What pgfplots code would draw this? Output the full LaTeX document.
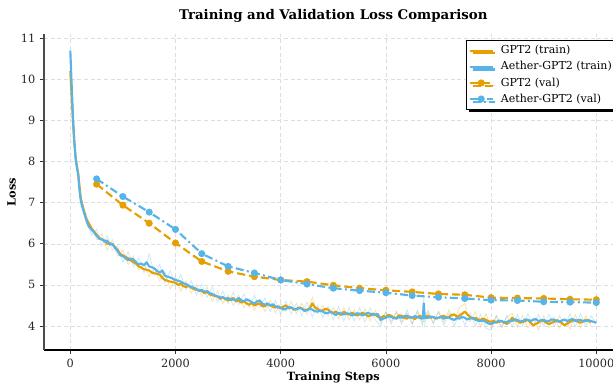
\documentclass[border=0pt]{standalone}
\usepackage{pgfplots}
\pgfplotsset{compat=1.18}
\usepackage{fontspec}
\setmainfont{DejaVu Serif}
\usetikzlibrary{shadows}
\definecolor{cOr}{HTML}{E69F00}
\definecolor{cBl}{HTML}{56B4E9}
\begin{document}
\begin{tikzpicture}
\useasboundingbox (0,0) rectangle (459.75pt,287.25pt);
\clip (0,0) rectangle (459.75pt,287.25pt);
\begin{axis}[
  at={(33pt,24.75pt)}, anchor=south west,
  scale only axis, width=433.95pt, height=236.85pt,
  xmin=-500, xmax=10500, ymin=3.416, ymax=11.1,
  axis x line*=bottom, axis y line*=left,
  x axis line style={black, line width=0.8pt, -},
  y axis line style={black!70, line width=1.2pt, -},
  xtick={0,2000,4000,6000,8000,10000},
  ytick={4,5,6,7,8,9,10,11},
  scaled x ticks=false,
  xticklabel style={/pgf/number format/1000 sep={}},
  /pgf/number format/assume math mode=true,
  tick align=outside, major tick length=3pt,
  tick style={black!80, line width=0.6pt},
  ticklabel style={font=\fontsize{8.5}{10}\selectfont, text=black!85},
  grid=major, grid style={densely dashed, black!13, line width=0.4pt},
  xlabel={\textbf{Training Steps}}, ylabel={\textbf{Loss}},
  label style={font=\fontsize{8.5}{10}\selectfont},
  xlabel style={yshift=3.5pt},
  ylabel style={yshift=-3pt},
  title={\textbf{Training and Validation Loss Comparison}},
  title style={font=\fontsize{10}{12}\selectfont, yshift=-0.5pt},
  legend style={at={(0.729,0.982)}, anchor=north west, draw=black, fill=white,
    line width=0.5pt, font=\fontsize{8.25}{10}\selectfont,
    drop shadow={shadow xshift=2pt, shadow yshift=-2pt, fill=black, opacity=1},
    row sep=0.3pt, inner sep=2pt},
  legend cell align=left,
  legend image code/.code={\draw[#1] (0pt,0pt) -- (17pt,0pt); \path[#1,solid] plot coordinates {(8.5pt,0pt)}; \path (20.5pt,0pt);},
]
% raw (faint) training curves
\addplot[cOr, opacity=0.3, line width=0.6pt, forget plot] coordinates {
(0,10.2)(50,8.9)(100,8.2)(150,7.6)(200,7.2)(300,6.5)(400,6.45)(500,6.1)(600,6.25)(700,5.85)(800,6.1)(900,5.7)(1000,5.85)(1100,5.5)(1200,5.7)(1300,5.35)(1400,5.5)(1500,5.2)(1600,5.4)(1700,5.1)(1800,5.3)(1900,4.9)(2000,5.2)(2100,4.85)(2200,5.1)(2300,4.8)(2400,5.0)(2500,4.72)(2600,4.95)(2700,4.6)(2800,4.85)(2900,4.55)(3000,4.75)(3100,4.5)(3200,4.75)(3300,4.45)(3400,4.65)(3500,4.38)(3600,4.65)(3700,4.35)(3800,4.62)(3900,4.32)(4000,4.55)(4100,4.35)(4200,4.6)(4300,4.3)(4400,4.55)(4500,4.28)(4600,4.7)(4700,4.3)(4800,4.5)(4900,4.25)(5000,4.45)(5100,4.18)(5200,4.45)(5300,4.15)(5400,4.4)(5500,4.15)(5600,4.42)(5700,4.12)(5800,4.38)(5900,4.08)(6000,4.35)(6100,4.1)(6200,4.35)(6300,4.1)(6400,4.32)(6500,4.05)(6600,4.35)(6700,4.08)(6800,4.38)(6900,4.08)(7000,4.35)(7100,4.1)(7200,4.4)(7300,4.12)(7400,4.45)(7500,4.55)(7600,4.1)(7700,4.35)(7800,3.98)(7900,4.3)(8000,3.95)(8100,4.25)(8200,3.95)(8300,4.22)(8400,4.3)(8500,3.98)(8600,4.25)(8700,3.95)(8800,4.2)(8900,3.9)(9000,4.25)(9100,3.95)(9200,4.22)(9300,3.95)(9400,4.2)(9500,3.92)(9600,4.28)(9700,3.95)(9800,4.25)(9900,4.0)
};
\addplot[cBl, opacity=0.3, line width=0.6pt, forget plot] coordinates {
(0,10.7)(50,9.2)(100,8.0)(150,7.8)(200,6.9)(300,6.75)(400,6.2)(500,6.35)(600,5.95)(700,6.2)(800,5.85)(900,5.95)(1000,5.55)(1100,5.8)(1200,5.45)(1300,5.65)(1400,5.3)(1500,5.75)(1600,5.25)(1700,5.5)(1800,5.05)(1900,5.35)(2000,4.98)(2100,5.25)(2200,4.88)(2300,5.1)(2400,4.75)(2500,5.02)(2600,4.7)(2700,4.95)(2800,4.58)(2900,4.85)(3000,4.55)(3100,4.82)(3200,4.52)(3300,4.78)(3400,4.45)(3500,4.75)(3600,4.45)(3700,4.68)(3800,4.35)(3900,4.62)(4000,4.3)(4100,4.6)(4200,4.3)(4300,4.55)(4400,4.25)(4500,4.58)(4600,4.22)(4700,4.5)(4800,4.2)(4900,4.48)(5000,4.15)(5100,4.48)(5200,4.12)(5300,4.45)(5400,4.12)(5500,4.45)(5600,4.1)(5700,4.45)(5800,4.15)(5900,4.0)(6000,4.35)(6100,4.05)(6200,4.35)(6300,4.05)(6400,4.4)(6500,4.05)(6600,4.38)(6700,4.0)(6720,4.75)(6740,4.05)(6800,4.35)(6900,4.05)(7000,4.35)(7100,4.02)(7200,4.32)(7300,4.0)(7400,4.32)(7500,4.02)(7600,4.32)(7700,4.0)(7800,4.28)(7900,3.95)(8000,3.9)(8100,4.25)(8200,3.98)(8300,4.25)(8400,3.98)(8500,4.28)(8600,4.0)(8700,4.3)(8800,4.0)(8900,4.28)(9000,4.0)(9100,4.28)(9200,4.0)(9300,4.25)(9400,4.0)(9500,4.3)(9600,3.98)(9700,4.3)(9800,4.0)(9900,4.25)(10000,4.05)
};
% smoothed training curves
\addplot[cOr, line width=1.6pt, line join=round] coordinates {
(0,10.2)(25,9.6)(50,9.0)(75,8.5)(100,8.1)(125,7.9)(150,7.7)(175,7.4)(200,7.1)(250,6.85)(300,6.62)(350,6.5)(400,6.38)(450,6.3)(500,6.22)(550,6.15)(600,6.1)(650,6.08)(700,6.0)(750,6.02)(800,5.98)(850,5.92)(900,5.85)(950,5.75)(1000,5.72)(1050,5.68)(1100,5.65)(1150,5.6)(1200,5.55)(1250,5.52)(1300,5.45)(1350,5.42)(1400,5.38)(1450,5.37)(1500,5.35)(1550,5.3)(1600,5.28)(1650,5.27)(1700,5.25)(1750,5.17)(1800,5.12)(1850,5.1)(1900,5.08)(1950,5.07)
(2000,5.05)(2050,5.0)(2100,5.03)(2150,4.97)(2200,4.95)(2250,4.98)(2300,4.93)(2350,4.9)(2400,4.88)(2450,4.86)(2500,4.85)(2550,4.8)(2600,4.83)(2650,4.77)(2700,4.75)(2750,4.73)(2800,4.72)(2850,4.66)(2900,4.7)(2950,4.65)(3000,4.62)(3050,4.66)(3100,4.68)(3150,4.6)(3200,4.62)(3250,4.57)(3300,4.6)(3350,4.55)(3400,4.52)(3450,4.56)(3500,4.5)(3550,4.53)(3600,4.55)(3650,4.48)(3700,4.48)(3750,4.54)(3800,4.5)(3850,4.47)(3900,4.45)(3950,4.48)(4000,4.43)(4050,4.47)(4100,4.5)(4150,4.43)(4200,4.45)(4250,4.4)(4300,4.42)(4350,4.45)(4400,4.43)(4450,4.38)(4500,4.4)(4550,4.42)(4600,4.55)(4650,4.45)(4700,4.42)(4750,4.36)(4800,4.38)(4850,4.42)(4900,4.4)(4950,4.34)(5000,4.32)(5050,4.35)(5100,4.3)(5150,4.27)(5200,4.35)(5250,4.3)(5300,4.28)(5350,4.32)(5400,4.3)(5450,4.26)(5500,4.28)(5550,4.32)(5600,4.3)(5650,4.24)(5700,4.25)(5750,4.3)(5800,4.28)(5850,4.22)(5900,4.2)(5950,4.24)(6000,4.22)(6050,4.27)(6100,4.25)(6150,4.2)(6200,4.2)(6250,4.26)(6300,4.25)(6350,4.2)(6400,4.18)(6450,4.23)(6500,4.2)(6550,4.17)(6600,4.22)(6650,4.25)(6700,4.2)(6750,4.22)(6800,4.25)(6850,4.2)(6900,4.22)(6950,4.18)(7000,4.2)(7050,4.23)(7100,4.25)(7150,4.2)(7200,4.22)(7250,4.27)(7300,4.28)(7350,4.23)(7400,4.25)(7450,4.3)(7500,4.35)(7550,4.28)(7600,4.22)(7650,4.18)(7700,4.2)(7750,4.16)(7800,4.15)(7850,4.18)(7900,4.15)(7950,4.12)(8000,4.1)(8050,4.13)(8100,4.08)(8150,4.1)(8200,4.12)(8250,4.08)(8300,4.05)(8350,4.1)(8400,4.2)(8450,4.14)(8500,4.12)(8550,4.08)(8600,4.1)(8650,4.12)(8700,4.15)(8750,4.08)(8800,4.02)(8850,4.05)(8900,4.08)(8950,4.14)(9000,4.12)(9050,4.08)(9100,4.05)(9150,4.08)(9200,4.1)(9250,4.14)(9300,4.12)(9350,4.06)(9400,4.02)(9450,4.06)(9500,4.1)(9550,4.13)(9600,4.15)(9650,4.1)(9700,4.08)(9750,4.12)(9800,4.15)(9850,4.12)(9900,4.1)
};
\addlegendentry{GPT2 (train)}
\addplot[cBl, line width=1.6pt, line join=round] coordinates {
(0,10.7)(25,9.9)(50,9.1)(75,8.5)(100,8.1)(125,7.85)(150,7.7)(175,7.3)(200,7.05)(250,6.8)(300,6.6)(350,6.42)(400,6.35)(450,6.28)(500,6.2)(550,6.12)(600,6.12)(650,6.05)(700,6.08)(750,5.98)(800,6.0)(850,5.9)(900,5.82)(950,5.72)(1000,5.7)(1050,5.65)(1100,5.6)(1150,5.64)(1200,5.62)(1250,5.55)(1300,5.5)(1350,5.52)(1400,5.48)(1450,5.55)(1500,5.45)(1550,5.43)(1600,5.4)(1650,5.34)(1700,5.3)(1750,5.35)(1800,5.22)(1850,5.2)(1900,5.18)(1950,5.15)
(2000,5.12)(2050,5.1)(2100,5.08)(2150,5.04)(2200,5.02)(2250,4.98)(2300,4.95)(2350,4.93)(2400,4.9)(2450,4.86)(2500,4.88)(2550,4.83)(2600,4.85)(2650,4.8)(2700,4.78)(2750,4.74)(2800,4.72)(2850,4.69)(2900,4.7)(2950,4.66)(3000,4.68)(3050,4.63)(3100,4.65)(3150,4.62)(3200,4.68)(3250,4.63)(3300,4.6)(3350,4.65)(3400,4.62)(3450,4.58)(3500,4.55)(3550,4.6)(3600,4.62)(3650,4.55)(3700,4.52)(3750,4.55)(3800,4.5)(3850,4.53)(3900,4.48)(3950,4.45)(4000,4.45)(4050,4.4)(4100,4.42)(4150,4.46)(4200,4.45)(4250,4.41)(4300,4.4)(4350,4.44)(4400,4.42)(4450,4.37)(4500,4.38)(4550,4.42)(4600,4.4)(4650,4.36)(4700,4.35)(4750,4.38)(4800,4.35)(4850,4.31)(4900,4.32)(4950,4.35)(5000,4.3)(5050,4.27)(5100,4.32)(5150,4.3)(5200,4.28)(5250,4.31)(5300,4.3)(5350,4.26)(5400,4.27)(5450,4.31)(5500,4.3)(5550,4.26)(5600,4.28)(5650,4.32)(5700,4.3)(5750,4.27)(5800,4.28)(5850,4.29)(5900,4.15)(5950,4.18)(6000,4.2)(6050,4.24)(6100,4.22)(6150,4.19)(6200,4.18)(6250,4.22)(6300,4.2)(6350,4.24)(6400,4.25)(6450,4.21)(6500,4.2)(6550,4.24)(6600,4.22)(6650,4.19)(6700,4.18)(6720,4.55)(6740,4.2)(6800,4.2)(6850,4.23)(6900,4.22)(6950,4.19)(7000,4.2)(7050,4.22)(7100,4.18)(7150,4.21)(7200,4.2)(7250,4.17)(7300,4.15)(7350,4.19)(7400,4.18)(7450,4.22)(7500,4.2)(7550,4.16)(7600,4.18)(7650,4.2)(7700,4.15)(7750,4.13)(7800,4.12)(7850,4.14)(7900,4.1)(7950,4.06)(8000,4.05)(8050,4.08)(8100,4.1)(8150,4.13)(8200,4.12)(8250,4.09)(8300,4.1)(8350,4.13)(8400,4.12)(8450,4.16)(8500,4.15)(8550,4.11)(8600,4.12)(8650,4.16)(8700,4.15)(8750,4.12)(8800,4.15)(8850,4.17)(8900,4.12)(8950,4.14)(9000,4.15)(9050,4.11)(9100,4.12)(9150,4.16)(9200,4.15)(9250,4.12)(9300,4.1)(9350,4.14)(9400,4.15)(9450,4.12)(9500,4.15)(9550,4.17)(9600,4.12)(9650,4.14)(9700,4.15)(9750,4.11)(9800,4.12)(9850,4.14)(9900,4.12)(9950,4.1)(10000,4.08)
};
\addlegendentry{Aether-GPT2 (train)}
% validation curves
\addplot[cOr, line width=1.6pt, dash pattern=on 6pt off 3pt, mark=*, mark size=1.8pt, mark options={solid}] coordinates {
(500,7.45)(1000,6.94)(1500,6.5)(2000,6.02)(2500,5.57)(3000,5.33)(3500,5.2)(4000,5.12)(4500,5.08)(5000,4.99)(5500,4.92)(6000,4.87)(6500,4.83)(7000,4.78)(7500,4.76)(8000,4.69)(8500,4.68)(9000,4.67)(9500,4.65)(10000,4.64)
};
\addlegendentry{GPT2 (val)}
\addplot[cBl, line width=1.6pt, dash pattern=on 6pt off 2.5pt on 1.5pt off 2.5pt, mark=*, mark size=1.8pt, mark options={solid}] coordinates {
(500,7.58)(1000,7.15)(1500,6.77)(2000,6.35)(2500,5.76)(3000,5.45)(3500,5.29)(4000,5.12)(4500,5.02)(5000,4.92)(5500,4.86)(6000,4.81)(6500,4.74)(7000,4.7)(7500,4.67)(8000,4.63)(8500,4.62)(9000,4.59)(9500,4.58)(10000,4.57)
};
\addlegendentry{Aether-GPT2 (val)}
\end{axis}
\end{tikzpicture}
\end{document}
